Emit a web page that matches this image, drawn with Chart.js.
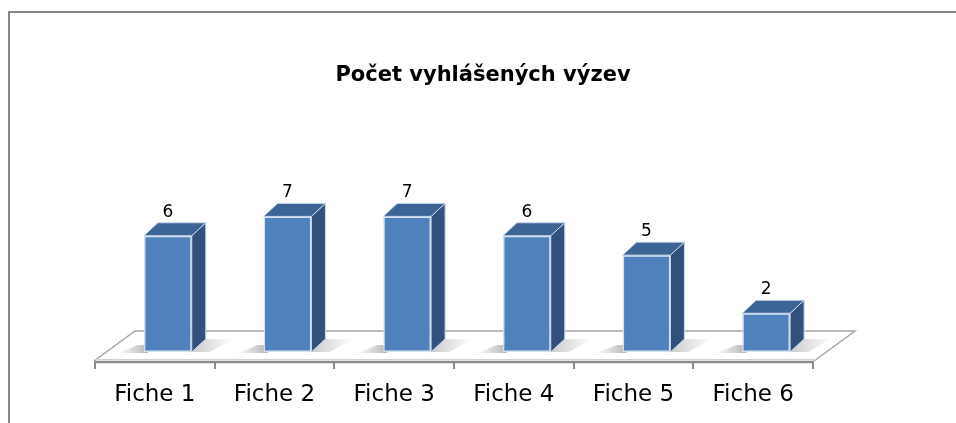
<!DOCTYPE html>
<html>
<head>
<meta charset="utf-8">
<script src="https://cdn.jsdelivr.net/npm/chart.js@4.4.0/dist/chart.umd.min.js"></script>
<style>
html,body{margin:0;padding:0;background:#fff;}
canvas{display:block;}
</style>
</head>
<body>
<canvas id="c" width="956" height="423"></canvas>
<script>
const categories = ['Fiche 1', 'Fiche 2', 'Fiche 3', 'Fiche 4', 'Fiche 5', 'Fiche 6'];
const values = [6, 7, 7, 6, 5, 2];
const chartTitle = 'Počet vyhlášených výzev';

const DX = 14, DY = -13;       // bar depth
const FX = -13, FY = 10;       // front plane offset from bars
const BX = 41, BY = -31;       // floor depth

const threeD = {
  id: 'threeD',
  beforeDraw(chart) {
    const ctx = chart.ctx;
    ctx.save();
    ctx.fillStyle = '#fff';
    ctx.fillRect(0, 0, chart.width, chart.height);
    ctx.strokeStyle = '#878787';
    ctx.lineWidth = 2;
    ctx.beginPath();
    ctx.moveTo(9, 423);
    ctx.lineTo(9, 12);
    ctx.lineTo(956, 12);
    ctx.stroke();
    // title
    ctx.fillStyle = '#000';
    ctx.font = 'bold 21px "DejaVu Sans", sans-serif';
    ctx.textAlign = 'center';
    ctx.textBaseline = 'middle';
    ctx.fillText(chartTitle, 483, 76);
    ctx.restore();
  },
  beforeDatasetsDraw(chart) {
    const ctx = chart.ctx;
    const xs = chart.scales.x, ys = chart.scales.y;
    const n = categories.length;
    const cw = (xs.getPixelForValue(1) - xs.getPixelForValue(0));
    const base = ys.getPixelForValue(0);
    const fl = xs.getPixelForValue(0) - cw / 2 + FX - 1;
    const fr = xs.getPixelForValue(n - 1) + cw / 2 + FX + 1;
    const fy = base + FY;
    ctx.save();
    ctx.fillStyle = '#ffffff';
    ctx.beginPath();
    ctx.moveTo(fl, fy);
    ctx.lineTo(fl + BX, fy + BY);
    ctx.lineTo(fr + BX, fy + BY);
    ctx.lineTo(fr, fy);
    ctx.closePath();
    ctx.fill();
    ctx.strokeStyle = '#a6a6a6';
    ctx.lineWidth = 1.5;
    ctx.beginPath();
    ctx.moveTo(fl, fy - 1);
    ctx.lineTo(fl + BX, fy + BY);
    ctx.lineTo(fr + BX, fy + BY);
    ctx.lineTo(fr, fy - 1);
    ctx.stroke();
    ctx.strokeStyle = '#d0d0d0';
    ctx.lineWidth = 1;
    ctx.beginPath();
    ctx.moveTo(fl, fy - 2.5);
    ctx.lineTo(fr, fy - 2.5);
    ctx.stroke();
    ctx.strokeStyle = '#8c8c8c';
    ctx.lineWidth = 2.5;
    ctx.beginPath();
    ctx.moveTo(fl, fy);
    ctx.lineTo(fr, fy);
    ctx.stroke();
    ctx.lineWidth = 2;
    ctx.beginPath();
    for (let i = 0; i <= n; i++) {
      const tx = Math.round(xs.getPixelForValue(0) - cw / 2 + FX + i * cw);
      ctx.moveTo(tx, fy);
      ctx.lineTo(tx, fy + 7);
    }
    ctx.stroke();
    const meta = chart.getDatasetMeta(0);
    meta.data.forEach((bar) => {
      const left = bar.x - bar.width / 2;
      const right = bar.x + bar.width / 2;
      const g = ctx.createLinearGradient(left - 26, 0, left + 4, 0);
      g.addColorStop(0, 'rgba(120,120,120,0)');
      g.addColorStop(1, 'rgba(120,120,120,0.55)');
      ctx.fillStyle = g;
      ctx.beginPath();
      ctx.moveTo(left - 26, base + 1);
      ctx.lineTo(left - 6, base - 7);
      ctx.lineTo(left + 4, base - 7);
      ctx.lineTo(left + 4, base + 1);
      ctx.closePath();
      ctx.fill();
      const g2 = ctx.createLinearGradient(right, 0, right + DX + 28, 0);
      g2.addColorStop(0, 'rgba(140,140,140,0.45)');
      g2.addColorStop(1, 'rgba(140,140,140,0)');
      ctx.fillStyle = g2;
      ctx.beginPath();
      ctx.moveTo(right, base);
      ctx.lineTo(right + DX, base + DY);
      ctx.lineTo(right + DX + 28, base + DY);
      ctx.lineTo(right + 18, base);
      ctx.closePath();
      ctx.fill();
    });
    ctx.fillStyle = '#000';
    ctx.font = '23px "DejaVu Sans", sans-serif';
    ctx.textAlign = 'center';
    ctx.textBaseline = 'middle';
    categories.forEach((c, i) => {
      ctx.fillText(c, xs.getPixelForValue(i) + FX, fy + 33);
    });
    ctx.restore();
  },
  afterDatasetsDraw(chart) {
    const ctx = chart.ctx;
    const meta = chart.getDatasetMeta(0);
    ctx.save();
    meta.data.forEach((bar, i) => {
      const left = bar.x - bar.width / 2;
      const right = bar.x + bar.width / 2;
      const top = bar.y, base = bar.base;
      ctx.lineWidth = 1;
      ctx.strokeStyle = '#c8d6ea';
      ctx.fillStyle = '#31507b';
      ctx.beginPath();
      ctx.moveTo(right, top);
      ctx.lineTo(right + DX, top + DY);
      ctx.lineTo(right + DX, base + DY);
      ctx.lineTo(right, base);
      ctx.closePath();
      ctx.fill();
      ctx.stroke();
      ctx.fillStyle = '#3c6596';
      ctx.beginPath();
      ctx.moveTo(left, top);
      ctx.lineTo(left + DX, top + DY);
      ctx.lineTo(right + DX, top + DY);
      ctx.lineTo(right, top);
      ctx.closePath();
      ctx.fill();
      ctx.stroke();
      ctx.fillStyle = '#000';
      ctx.font = '17px "DejaVu Sans", sans-serif';
      ctx.textAlign = 'center';
      ctx.textBaseline = 'alphabetic';
      ctx.fillText(String(values[i]), bar.x, top + DY - 6);
    });
    ctx.restore();
  }
};

new Chart(document.getElementById('c'), {
  type: 'bar',
  data: {
    labels: categories,
    datasets: [{
      data: values,
      backgroundColor: '#4f81bd',
      borderColor: '#d4e0ef',
      borderWidth: 1.5,
      borderSkipped: false,
      categoryPercentage: 1,
      barPercentage: 0.4
    }]
  },
  options: {
    responsive: false,
    animation: false,
    devicePixelRatio: 1,
    layout: { padding: { left: 108, right: 130, top: 197, bottom: 71 } },
    scales: {
      x: { display: false },
      y: { display: false, min: 0, max: 8 }
    },
    plugins: {
      legend: { display: false },
      tooltip: { enabled: false },
      title: { display: false }
    }
  },
  plugins: [threeD]
});
</script>
</body>
</html>
